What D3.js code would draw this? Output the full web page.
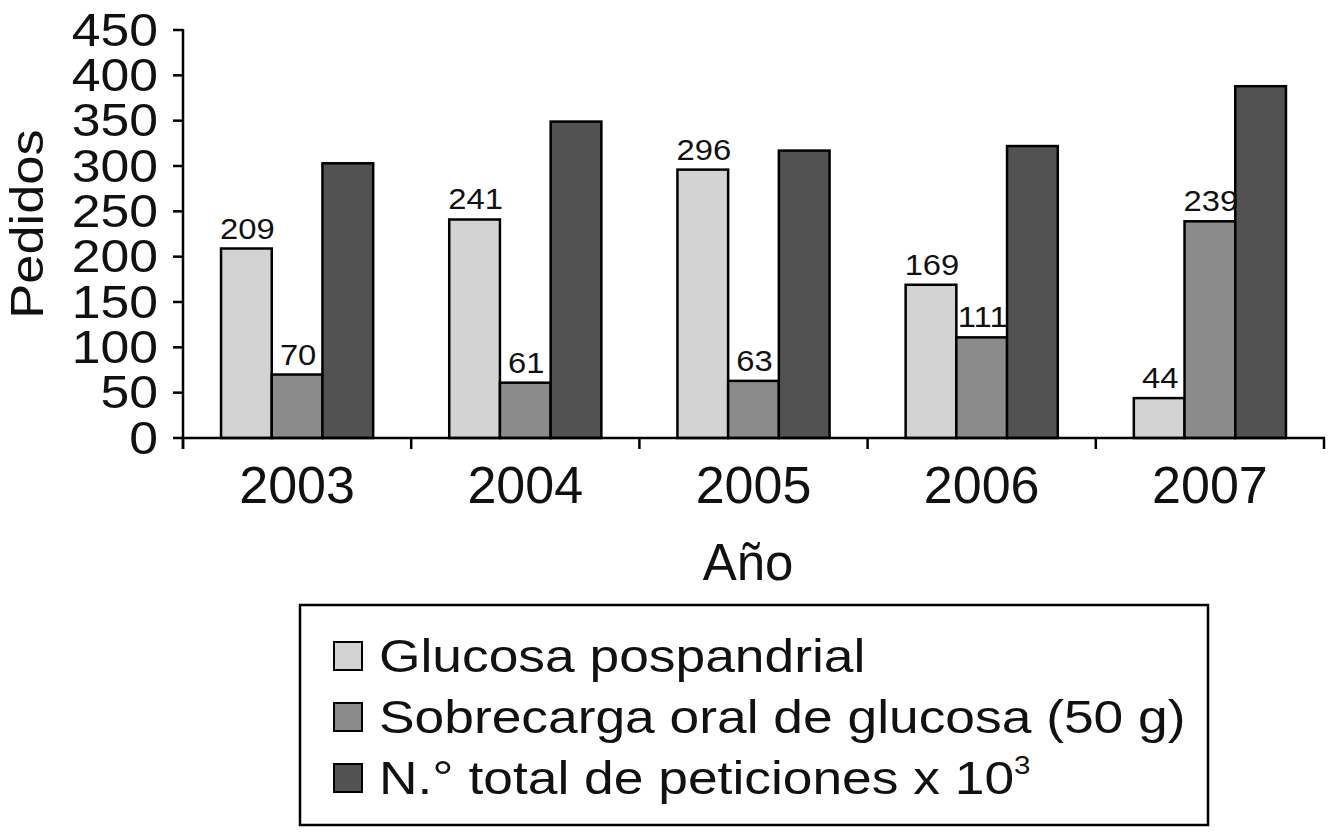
<!DOCTYPE html>
<html>
<head>
<meta charset="utf-8">
<script src="https://cdn.jsdelivr.net/npm/d3@7/dist/d3.min.js"></script>
<style>
  html, body { margin: 0; padding: 0; background: #fff; }
  svg { display: block; }
  text { font-family: "Liberation Sans", Arial, Helvetica, sans-serif; fill: #111; }
</style>
</head>
<body>
<svg id="chart" width="1333" height="836"></svg>
<script>
// ---- data ----
const years = ["2003", "2004", "2005", "2006", "2007"];
const seriesNames = ["Glucosa pospandrial", "Sobrecarga oral de glucosa (50 g)", "N.° total de peticiones x 10"];
const seriesSup = ["", "", "3"];
const glucosaPospandrial = [209, 241, 296, 169, 44];
const sobrecargaOral = [70, 61, 63, 111, 239];
const totalPeticiones = [303, 349, 317, 322, 388];
const showLabel = [true, true, false];
const yTicks = [0, 50, 100, 150, 200, 250, 300, 350, 400, 450];
const yLabel = "Pedidos";
const xLabel = "Año";
const colors = ["#d3d3d3", "#8b8b8b", "#525252"];

const seriesValues = [glucosaPospandrial, sobrecargaOral, totalPeticiones];

(function () {
const svg = d3.select("#chart");
const pLeft = 183, pRight = 1324, pTop = 30, pBottom = 438;
const sx = 1.1; // horizontal text stretch seen in the reference

const x0 = d3.scaleBand().domain(years).range([pLeft, pRight]).paddingInner(0).paddingOuter(0);
const x1 = d3.scaleBand().domain(d3.range(seriesNames.length)).range([0, x0.bandwidth()]).paddingInner(0).paddingOuter(0.75);
const y = d3.scaleLinear().domain([0, 450]).range([pBottom, pTop]);

// bars
const groups = svg.append("g").selectAll("g").data(years).join("g")
  .attr("transform", d => `translate(${x0(d)},0)`);

groups.selectAll("rect")
  .data((d, i) => seriesValues.map((vals, s) => ({ s, v: vals[i] })))
  .join("rect")
  .attr("x", d => x1(d.s))
  .attr("y", d => y(d.v))
  .attr("width", x1.bandwidth())
  .attr("height", d => y(0) - y(d.v))
  .attr("fill", d => colors[d.s])
  .attr("stroke", "#000")
  .attr("stroke-width", 2.5);

// value labels
groups.selectAll("text.val")
  .data((d, i) => seriesValues.map((vals, s) => ({ s, v: vals[i] })).filter(d => showLabel[d.s]))
  .join("text")
  .attr("class", "val")
  .attr("transform", d => `translate(${x1(d.s) + x1.bandwidth() / 2 + 1},${y(d.v) - 10}) scale(1.13,1)`)
  .attr("text-anchor", "middle")
  .style("font-size", "29px")
  .text(d => d.v);

// y axis
const yAxis = svg.append("g");
yAxis.append("line").attr("x1", pLeft).attr("x2", pLeft).attr("y1", pTop - 1).attr("y2", pBottom + 11)
  .attr("stroke", "#000").attr("stroke-width", 2.5);
yAxis.selectAll("line.tick").data(yTicks).join("line").attr("class", "tick")
  .attr("x1", pLeft - 10).attr("x2", pLeft).attr("y1", d => y(d)).attr("y2", d => y(d))
  .attr("stroke", "#000").attr("stroke-width", 2.5);
yAxis.selectAll("text").data(yTicks).join("text")
  .attr("transform", d => `translate(158,${y(d) + 15.5}) scale(${sx},1)`)
  .attr("text-anchor", "end")
  .style("font-size", "47px")
  .text(d => d);

// x axis
const xAxis = svg.append("g");
xAxis.append("line").attr("x1", pLeft).attr("x2", pRight + 1).attr("y1", pBottom).attr("y2", pBottom)
  .attr("stroke", "#000").attr("stroke-width", 2.5);
const bounds = years.map(d => x0(d)).concat([pRight]);
xAxis.selectAll("line.tick").data(bounds).join("line").attr("class", "tick")
  .attr("x1", d => d).attr("x2", d => d).attr("y1", pBottom).attr("y2", pBottom + 11)
  .attr("stroke", "#000").attr("stroke-width", 2.5);
xAxis.selectAll("text").data(years).join("text")
  .attr("x", d => x0(d) + x0.bandwidth() / 2)
  .attr("y", 503)
  .attr("text-anchor", "middle")
  .style("font-size", "52px")
  .text(d => d);

// axis titles
svg.append("text")
  .attr("transform", `translate(748,580) scale(0.98,1)`)
  .attr("text-anchor", "middle")
  .style("font-size", "52px")
  .text(xLabel);

svg.append("text")
  .attr("transform", `translate(43,224) rotate(-90) scale(1.14,1)`)
  .attr("text-anchor", "middle")
  .style("font-size", "46px")
  .text(yLabel);

// legend
const legend = svg.append("g");
legend.append("rect").attr("x", 300).attr("y", 605).attr("width", 908).attr("height", 220)
  .attr("fill", "#fff").attr("stroke", "#000").attr("stroke-width", 2.5);
const rowBase = [672, 733, 794];
const rows = legend.selectAll("g.row").data(seriesNames).join("g").attr("class", "row");
rows.append("rect")
  .attr("x", 334).attr("y", (d, i) => rowBase[i] - 30)
  .attr("width", 28).attr("height", 28)
  .attr("fill", (d, i) => colors[i]).attr("stroke", "#000").attr("stroke-width", 2);
const lt = rows.append("text")
  .attr("transform", (d, i) => `translate(379,${rowBase[i]}) scale(1.135,1)`)
  .style("font-size", "47px");
lt.append("tspan").text(d => d);
lt.append("tspan")
  .attr("dy", -20)
  .style("font-size", "26px")
  .text((d, i) => seriesSup[i]);
})();
</script>
</body>
</html>
